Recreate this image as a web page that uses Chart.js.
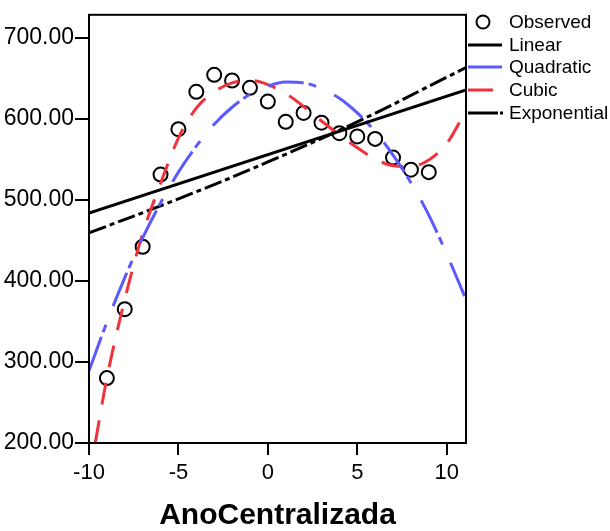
<!DOCTYPE html>
<html><head><meta charset="utf-8">
<script src="https://cdn.jsdelivr.net/npm/chart.js@4"></script>
<style>html,body{margin:0;padding:0;background:#fff}#wrap{width:610px;height:531px}</style>
</head><body><div id="wrap"><canvas id="c" width="610" height="531"></canvas></div>
<script>
// Observed points
const observedX = [-9,-8,-7,-6,-5,-4,-3,-2,-1,0,1,2,3,4,5,6,7,8,9];
const observedY = [280,365,442,531,587,633,654,647,638,621,596,607,595,582,578,575,552,537,534];
// Fitted curves
const linearX = [-10, 11.08];
const linearY = [483.5, 635.5];
const quadX = [-10,-9,-8,-7,-6,-5,-4,-3,-2,-1,0,1,2,3,4,5,6,7,8,9,10,11.08];
const quadY = [289,349,404,453,496,534,566,593,614,630,640,645,644,637,625,607,584,555,521,481,433,377];
const cubicX = [-10,-9,-8,-7,-6,-5,-4,-3,-2,-1,0,1,2,3,4,5,6,7,8,9,10,11.08];
const cubicY = [155,280,377,458,520,576,613,633,644,647,642,631,615,597,580,564,550,542,541,549,569,610];
const expX = [-10,-5,0,5,10,11.08];
const expY = [459,501,546.5,596,651,663];
const xTickValues = [-10,-5,0,5,10];
const yTickValues = [200,300,400,500,600,700];
const seriesNames = ['Observed','Linear','Quadratic','Cubic','Exponential'];

const pts = (xs, ys) => xs.map((x, i) => ({x, y: ys[i]}));
const BLUE = '#5a5aff', RED = '#f0323c';
const FONT = '"Liberation Sans", Arial, sans-serif';

const framePlugin = {
  id: 'frame',
  afterDraw(chart) {
    const {ctx, chartArea: a} = chart;
    ctx.save();
    ctx.strokeStyle = '#000'; ctx.lineWidth = 2;
    ctx.strokeRect(a.left, a.top, a.right - a.left, a.bottom - a.top);
    // legend
    const rows = [22, 45, 67, 90, 113];
    ctx.font = '19px ' + FONT;
    ctx.fillStyle = '#000';
    ctx.textBaseline = 'middle';
    ctx.textAlign = 'left';
    seriesNames.forEach((n, i) => ctx.fillText(n, 509, rows[i] + 1));
    ctx.lineWidth = 2;
    ctx.beginPath(); ctx.arc(483, rows[0], 6.5, 0, Math.PI * 2); ctx.stroke();
    const seg = (x1, x2, y, c) => { ctx.strokeStyle = c; ctx.lineWidth = 3; ctx.beginPath(); ctx.moveTo(x1, y); ctx.lineTo(x2, y); ctx.stroke(); };
    seg(468, 502, rows[1], '#000');
    seg(468, 502, rows[2], BLUE);
    seg(468, 493, rows[3], RED);
    seg(468, 498, rows[4], '#000');
    seg(500, 503, rows[4], '#000');
    ctx.restore();
  }
};

new Chart(document.getElementById('c'), {
  type: 'scatter',
  data: {
    datasets: [
      { label: seriesNames[0], data: pts(observedX, observedY), showLine: false, order: 10,
        pointRadius: 7, pointHoverRadius: 7, pointBorderWidth: 2, pointBorderColor: '#000', pointBackgroundColor: 'rgba(0,0,0,0)' },
      { label: seriesNames[1], data: pts(linearX, linearY), showLine: true, order: 1, pointRadius: 0,
        borderColor: '#000', borderWidth: 3 },
      { label: seriesNames[2], data: pts(quadX, quadY), showLine: true, order: 2, pointRadius: 0,
        borderColor: BLUE, borderWidth: 3, borderDash: [36, 5, 8, 20], cubicInterpolationMode: 'monotone' },
      { label: seriesNames[3], data: pts(cubicX, cubicY), showLine: true, order: 3, pointRadius: 0,
        borderColor: RED, borderWidth: 3, borderDash: [22, 16], cubicInterpolationMode: 'monotone' },
      { label: seriesNames[4], data: pts(expX, expY), showLine: true, order: 4, pointRadius: 0,
        borderColor: '#000', borderWidth: 3, borderDash: [18, 4, 5, 4], tension: 0.4 }
    ]
  },
  options: {
    responsive: false, animation: false, devicePixelRatio: 1,
    layout: { padding: { left: 0, right: 144, top: 9, bottom: 0 } },
    plugins: { legend: { display: false }, tooltip: { enabled: false } },
    scales: {
      x: {
        type: 'linear', min: -10, max: 11.08,
        afterBuildTicks: s => { s.ticks = xTickValues.map(v => ({value: v})); },
        afterFit: s => { s.height = 88; },
        ticks: { color: '#000', font: { family: FONT, size: 22 }, padding: 5, maxRotation: 0, autoSkip: false },
        grid: { drawOnChartArea: false, drawTicks: true, tickLength: 12, color: '#000', lineWidth: 2 },
        border: { color: '#000', width: 2 },
        title: { display: true, text: 'AnoCentralizada', color: '#000',
          font: { family: FONT, size: 30, weight: 'bold' }, padding: { top: 0, bottom: -3 } }
      },
      y: {
        type: 'linear', min: 200, max: 728,
        afterBuildTicks: s => { s.ticks = yTickValues.map(v => ({value: v})); },
        afterFit: s => { s.width = 89; },
        ticks: { color: '#000', font: { family: FONT, size: 23 }, padding: 1,
          callback: v => Number(v).toFixed(2) },
        grid: { drawOnChartArea: false, drawTicks: true, tickLength: 14, color: '#000', lineWidth: 2 },
        border: { color: '#000', width: 2 }
      }
    }
  },
  plugins: [framePlugin]
});
</script>
</body></html>
